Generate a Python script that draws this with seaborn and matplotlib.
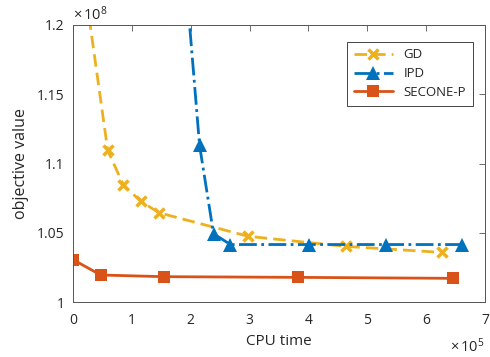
import numpy as np
import pandas as pd
import seaborn as sns
import matplotlib
matplotlib.use('Agg')
import matplotlib.pyplot as plt

# values in units of 1e5 (CPU time) and 1e8 (objective value)
gd_x = [0.10, 0.59, 0.855, 1.154, 1.463, 2.98, 4.63, 6.26]
gd_y = [1.258, 1.1094, 1.0846, 1.0726, 1.0644, 1.0474, 1.0402, 1.0358]
ipd_x = [1.85, 2.15, 2.387, 2.674, 4.01, 5.32, 6.60]
ipd_y = [1.267, 1.113, 1.0493, 1.0415, 1.0415, 1.0415, 1.0415]
sec_x = [0.0, 0.47, 1.54, 3.83, 6.45]
sec_y = [1.0306, 1.0195, 1.0183, 1.0178, 1.0171]

xticks = [0, 1, 2, 3, 4, 5, 6, 7]
yticks = [1.0, 1.05, 1.1, 1.15, 1.2]
ytick_labels = ['1', '1.05', '1.1', '1.15', '1.2']

sns.set_style('white')
plt.rcParams['font.family'] = ['Open Sans', 'DejaVu Sans']
plt.rcParams['mathtext.fontset'] = 'custom'
plt.rcParams['mathtext.rm'] = 'Open Sans'
plt.rcParams['mathtext.it'] = 'Open Sans'
plt.rcParams['xtick.direction'] = 'in'
plt.rcParams['ytick.direction'] = 'in'

fig = plt.figure(figsize=(4.9, 3.57), dpi=100)
ax = fig.add_axes([0.149, 0.154, 0.841, 0.776])

txt = '#262626'
axc = '#555555'
sns.lineplot(x=gd_x, y=gd_y, ax=ax, color='#EDB120', linestyle=(0, (4.5, 2.2)), lw=2,
             marker='x', markersize=7, markeredgewidth=2.5, markeredgecolor='#EDB120',
             label='GD', sort=False)
sns.lineplot(x=ipd_x, y=ipd_y, ax=ax, color='#0072BD', linestyle='-.', lw=2,
             marker='^', markersize=10, markeredgewidth=0, label='IPD', sort=False)
sns.lineplot(x=sec_x, y=sec_y, ax=ax, color='#D95319', linestyle='-', lw=2,
             marker='s', markersize=8, markeredgewidth=0, label='SECONE-P', sort=False)

ax.set_xlim(0, 7)
ax.set_ylim(1.0, 1.2)
ax.set_xticks(xticks)
ax.set_xticklabels([str(t) for t in xticks])
ax.set_yticks(yticks)
ax.set_yticklabels(ytick_labels)
ax.tick_params(axis='both', color=axc, labelcolor=txt, labelsize=10, length=4,
               width=0.6, top=True, right=True)
ax.tick_params(axis='x', pad=8)
ax.tick_params(axis='y', pad=6)
for s in ax.spines.values():
    s.set_color(axc)
    s.set_linewidth(0.7)

ax.set_xlabel('CPU time', fontsize=11, color=txt, labelpad=4)
ax.set_ylabel('objective value', fontsize=11.5, color=txt, labelpad=6)

ax.text(0.0, 1.005, r'$\times\,10^{8}$', transform=ax.transAxes, fontsize=10.5,
        color=txt, ha='left', va='bottom')
ax.text(1.0, -0.128, r'$\times\,10^{5}$', transform=ax.transAxes, fontsize=10.5,
        color=txt, ha='right', va='top')

leg = ax.legend(loc='upper right', bbox_to_anchor=(0.970, 0.940), borderaxespad=0,
                fontsize=9.5, handlelength=3.0, frameon=True, fancybox=False,
                framealpha=1, edgecolor=txt, borderpad=0.5, labelspacing=0.45)
leg.get_frame().set_linewidth(0.6)
for t in leg.get_texts():
    t.set_color(txt)

fig.savefig('out.png', dpi=100)
